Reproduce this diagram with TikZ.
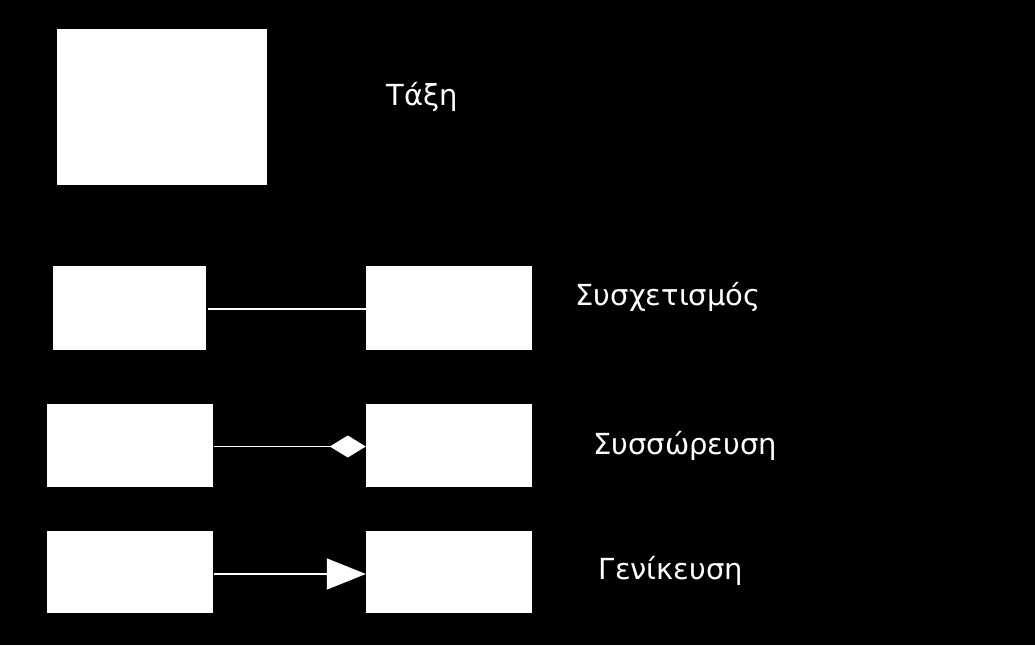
\documentclass[tikz,border=0pt]{standalone}
\usepackage{fontspec}
\setmainfont{DejaVu Sans}
\usetikzlibrary{arrows.meta}
\begin{document}
\begin{tikzpicture}[x=1pt,y=-1pt,
  cls/.style={fill=white,draw=none,inner sep=0pt},
  lbl/.style={text=white,font=\fontsize{29}{32}\selectfont,inner sep=0pt},
  conn/.style={draw=white,line width=1.5pt}]
\fill[black] (0,0) rectangle (1035,645);
\useasboundingbox (0,0) rectangle (1035,645);
% class
\node[cls,minimum width=210pt,minimum height=156pt] (c0) at (162,107) {};
\node[lbl] (t0) at (422,97) {Τάξη};
% association
\node[cls,minimum width=153pt,minimum height=84pt] (a1) at (129.5,308) {};
\node[cls,minimum width=166pt,minimum height=84pt] (a2) at (449,308) {};
\draw[conn] (a1.east) ++(2,1) coordinate (a1e) -- (a1e -| a2.west);
\node[lbl] (t1) at (668,297) {Συσχετισμός};
% aggregation
\node[cls,minimum width=166pt,minimum height=83pt] (g1) at (130,445.5) {};
\node[cls,minimum width=166pt,minimum height=83pt] (g2) at (449,445.5) {};
\draw[conn,-{Diamond[fill=white,length=36pt,width=22pt]}] (g1.east) ++(1,1) coordinate (g1e) -- (g1e -| g2.west);
\node[lbl] (t2) at (685,446) {Συσσώρευση};
% generalization
\node[cls,minimum width=166pt,minimum height=82pt] (h1) at (130,572) {};
\node[cls,minimum width=166pt,minimum height=82pt] (h2) at (449,572) {};
\draw[conn,-{Triangle[fill=white,length=39pt,width=31pt]}] (h1.east) ++(1,2) coordinate (h1e) -- (h1e -| h2.west);
\node[lbl] (t3) at (671,571) {Γενίκευση};
\end{tikzpicture}
\end{document}
